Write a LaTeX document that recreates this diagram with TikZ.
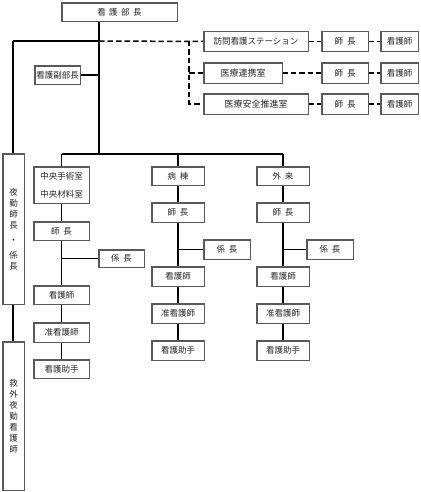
\documentclass[tikz,border=0pt]{standalone}
\usepackage{fontspec}
\newfontfamily\jp{Noto Sans CJK JP}
\newcommand{\jsp}{\hspace{4pt}}
\begin{document}
\begin{tikzpicture}[x=1pt,y=-1pt,
  box/.style={draw=black!65, line width=0.9pt, fill=white, inner sep=0pt,
    font=\jp\fontsize{8.5}{11}\selectfont, text=black!85, align=center},
  bigbox/.style={box, font=\jp\fontsize{9}{11}\selectfont},
  solidline/.style={line width=1.7pt, black},
  dashline/.style={line width=1.5pt, black, dash pattern=on 5.5pt off 3pt}]
\useasboundingbox (0,0) rectangle (420,492);
% top
\node[box, minimum width=115, minimum height=18] (top) at (119.5,12) {看\hspace{3.5pt}護\hspace{3.5pt}部\hspace{3.5pt}長};
\node[box, minimum width=45, minimum height=18] (vice) at (57.5,75) {看護副部長};
% right rows
\node[box, minimum width=104, minimum height=20] (homon) at (256,41.5) {訪問看護ステーション};
\node[box, minimum width=46, minimum height=20] (homonC) at (345,41.5) {師\jsp{}長};
\node[box, minimum width=37, minimum height=20] (homonN) at (399.5,41.5) {看護師};
\node[bigbox, minimum width=78, minimum height=20] (renkei) at (243,73) {医療連携室};
\node[box, minimum width=46, minimum height=20] (renkeiC) at (345,73) {師\jsp{}長};
\node[box, minimum width=37, minimum height=20] (renkeiN) at (399.5,73) {看護師};
\node[bigbox, minimum width=104, minimum height=20] (anzen) at (256,104) {医療安全推進室};
\node[box, minimum width=46, minimum height=20] (anzenC) at (345,104) {師\jsp{}長};
\node[box, minimum width=37, minimum height=20] (anzenN) at (399.5,104) {看護師};
% left tall boxes
\node[box, minimum width=21, minimum height=150] (yakin) at (13.5,229) {夜\\勤\\師\\長\\[4pt]・\\[4pt]係\\長};
\node[box, minimum width=21, minimum height=148] (kyugai) at (13.5,416) {救\\外\\夜\\勤\\看\\護\\師};
% column 1
\node[box, minimum width=55, minimum height=36] (c1a) at (61.5,185) {中央手術室\\[7pt]中央材料室};
\node[box, minimum width=55, minimum height=18] (c1b) at (61.5,231) {師\jsp{}長};
\node[box, minimum width=45, minimum height=17] (c1k) at (121.5,258.5) {係\jsp{}長};
\node[box, minimum width=55, minimum height=18] (c1c) at (61.5,295) {看護師};
\node[box, minimum width=55, minimum height=19] (c1d) at (61.5,332.5) {准看護師};
\node[box, minimum width=55, minimum height=18] (c1e) at (61.5,369) {看護助手};
% column 2
\node[box, minimum width=52, minimum height=18] (c2a) at (178,176) {病\jsp{}棟};
\node[box, minimum width=52, minimum height=19] (c2b) at (178,212.5) {師\jsp{}長};
\node[box, minimum width=46, minimum height=19] (c2k) at (227,249.5) {係\jsp{}長};
\node[box, minimum width=52, minimum height=19] (c2c) at (178,276.5) {看護師};
\node[box, minimum width=52, minimum height=19] (c2d) at (178,313.5) {准看護師};
\node[box, minimum width=52, minimum height=19] (c2e) at (178,350.5) {看護助手};
% column 3
\node[box, minimum width=52, minimum height=18] (c3a) at (283,176) {外\jsp{}来};
\node[box, minimum width=52, minimum height=19] (c3b) at (283,212.5) {師\jsp{}長};
\node[box, minimum width=46, minimum height=19] (c3k) at (330,249.5) {係\jsp{}長};
\node[box, minimum width=52, minimum height=19] (c3c) at (283,276.5) {看護師};
\node[box, minimum width=52, minimum height=19] (c3d) at (283,313.5) {准看護師};
\node[box, minimum width=52, minimum height=19] (c3e) at (283,350.5) {看護助手};
% coordinates
\coordinate (mtop) at (99,41);
\coordinate (mbot) at (99,154);
\coordinate (ltop) at (13,41);
\coordinate (dv) at (189,41);
\coordinate (h1) at (61.5,154);
\coordinate (h3) at (283,154);
% solid connectors
\draw[solidline] (top.south -| mtop) -- (mbot);
\draw[solidline] (ltop) -- (mtop);
\draw[solidline] (ltop) -- (yakin.north -| ltop);
\draw[solidline] (yakin.south -| ltop) -- (kyugai.north -| ltop);
\draw[solidline] (vice.east) -- (vice.east -| mtop);
\draw[solidline] (h1) -- (h3);
\draw[solidline] (h1) -- (c1a.north);
\draw[solidline] (c2a.north |- h1) -- (c2a.north);
\draw[solidline] (h3) -- (c3a.north);
\draw[solidline] (c1a) -- (c1b) (c1b) -- (c1c) (c1c) -- (c1d) (c1d) -- (c1e);
\draw[solidline] (c2a) -- (c2b) (c2b) -- (c2c) (c2c) -- (c2d) (c2d) -- (c2e);
\draw[solidline] (c3a) -- (c3b) (c3b) -- (c3c) (c3c) -- (c3d) (c3d) -- (c3e);
\draw[solidline] (c1k.west) -- (c1k.west -| c1b.south);
\draw[solidline] (c2k.west) -- (c2k.west -| c2b.south);
\draw[solidline] (c3k.west) -- (c3k.west -| c3b.south);
% dashed connectors
\draw[dashline] (mtop) -- (homon.west);
\draw[dashline] (dv) -- (dv |- anzen.west) -- (anzen.west);
\draw[dashline] (dv |- renkei.west) -- (renkei.west);
\draw[dashline] (homon.east) -- (homonC.west) (homonC.east) -- (homonN.west);
\draw[dashline] (renkei.east) -- (renkeiC.west) (renkeiC.east) -- (renkeiN.west);
\draw[dashline] (anzen.east) -- (anzenC.west) (anzenC.east) -- (anzenN.west);
% redraw box outlines over line ends
\foreach \n in {top,vice,homon,homonC,homonN,renkei,renkeiC,renkeiN,anzen,anzenC,anzenN,yakin,kyugai,c1a,c1b,c1k,c1c,c1d,c1e,c2a,c2b,c2k,c2c,c2d,c2e,c3a,c3b,c3k,c3c,c3d,c3e}
  \draw[draw=black!65, line width=0.9pt] (\n.north west) rectangle (\n.south east);
\end{tikzpicture}
\end{document}
